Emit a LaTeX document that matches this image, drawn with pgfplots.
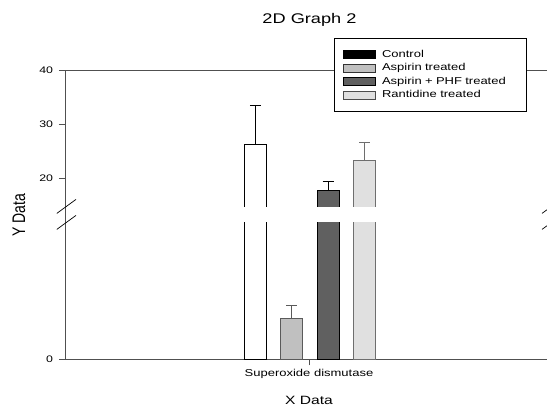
\documentclass[border=0pt]{standalone}
\usepackage{fontspec}
\setmainfont{Liberation Sans}[FakeStretch=1.3]
\newfontfamily\plainsans{Liberation Sans}
\usepackage{pgfplots}
\pgfplotsset{compat=1.18}
\definecolor{aspfill}{RGB}{192,192,192}
\definecolor{phffill}{RGB}{96,96,96}
\definecolor{ranfill}{RGB}{224,224,224}
\definecolor{edgegray}{RGB}{90,90,90}
\definecolor{ranedge}{RGB}{110,110,110}
\definecolor{axisgray}{RGB}{80,80,80}
\pgfplotsset{
  brk/.style={
    scale only axis, width=488pt, xmin=-244, xmax=244,
    anchor=south west,
    axis line style={draw=axisgray, line width=0.9pt},
    tick style={draw=axisgray, line width=0.9pt},
    tick align=outside, major tick length=6pt,
    ybar, bar width=22,
    clip=true,
    /pgf/number format/assume math mode=true,
    tick label style={font=\fontsize{9.5}{11}\selectfont},
    yticklabel style={anchor=east, inner sep=0pt, xshift=-5.7pt},
  },
  legpatch/.style={legend image code/.code={\draw[##1] (0pt,-4.15pt) rectangle (32pt,4.15pt);}},
  errs/.style={error bars/.cd, y dir=plus, y explicit,
    error bar style={line width=0.9pt, draw=#1},
    error mark options={rotate=90, mark size=5.5pt, line width=0.9pt, draw=#1}},
}
\newcommand\drawbars{%
  \addplot[forget plot, fill=white, draw=black, line width=0.9pt, bar shift=-53.6, errs=black]
    coordinates {(0,26.2) +- (0,7.3)};
  \addplot[forget plot, fill=aspfill, draw=edgegray, line width=0.9pt, bar shift=-17.2, errs=edgegray]
    coordinates {(0,1.49) +- (0,0.47)};
  \addplot[forget plot, fill=phffill, draw=black, line width=0.9pt, bar shift=19.2, errs=black]
    coordinates {(0,17.8) +- (0,1.6)};
  \addplot[forget plot, fill=ranfill, draw=ranedge, line width=0.9pt, bar shift=55.6, errs=ranedge]
    coordinates {(0,23.3) +- (0,3.3)};
}
\begin{document}
\begin{tikzpicture}[x=1pt,y=1pt]
\path[use as bounding box, clip] (0,0) rectangle (547,408);
% upper segment (drawn first; its part below the break is hidden)
\begin{axis}[brk, at={(65pt,175.9pt)}, height=161.4pt,
  ymin=10, ymax=40, ytick={20,30,40},
  xtick=\empty,
  axis x line*=top, axis y line*=left,
  legend style={at={(0.5512,1.2026)}, anchor=north west, draw=black, line width=0.9pt, fill=white,
    inner xsep=9pt, inner ysep=11.5pt, row sep=4pt,
    nodes={inner sep=0pt, text height=7.5pt, text depth=2pt, font=\fontsize{10}{12}\selectfont},
    /tikz/every odd column/.append style={column sep=5.7pt},
    /tikz/every even column/.append style={text width=135pt, align=left}},
  legend cell align=left,
]
\drawbars
\addlegendimage{legpatch, fill=black, draw=black}
\addlegendentry{Control}
\addlegendimage{legpatch, fill=aspfill, draw=black!80}
\addlegendentry{Aspirin treated}
\addlegendimage{legpatch, fill=phffill, draw=black}
\addlegendentry{Aspirin + PHF treated}
\addlegendimage{legpatch, fill=ranfill, draw=black!70}
\addlegendentry{Rantidine treated}
\end{axis}
% blank out the upper segment below the break
\fill[white] (60,165) rectangle (560,201.3);
% lower segment
\begin{axis}[brk, at={(65pt,48.7pt)}, height=136.6pt,
  ymin=0, ymax=5, ytick={0},
  xtick={0}, xticklabels={Superoxide dismutase},
  xticklabel style={font=\fontsize{10}{12}\selectfont},
  axis x line*=bottom, axis y line*=left,
  xlabel={X Data},
  xlabel style={at={(axis description cs:0.5,0)}, anchor=base, yshift=-45pt, font=\fontsize{12}{14}\selectfont},
]
\drawbars
\end{axis}
% continuous left spine through the break and break marks
\draw[axisgray, line width=0.9pt] (65,185) -- (65,201.3);
\draw[black, line width=0.7pt] (56.8,194.6) -- (76,208.6) (56.8,178.6) -- (76,192.6);
\draw[black, line width=0.7pt] (542,194.6) -- (561.2,208.6) (542,178.6) -- (561.2,192.6);
\node[font=\fontsize{14}{16}\selectfont, anchor=base] at (309.5,384) {2D Graph 2};
\node[rotate=90, yscale=1.3, inner sep=0pt, font=\plainsans\fontsize{14}{16}\selectfont] at (19,193) {Y Data};
\end{tikzpicture}
\end{document}
